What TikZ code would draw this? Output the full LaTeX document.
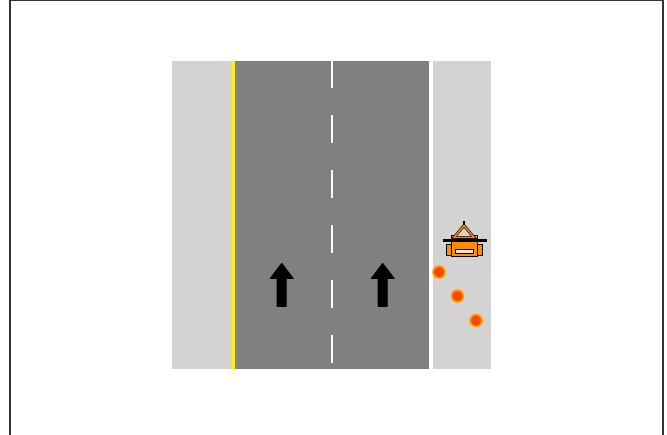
\documentclass[tikz,border=0pt]{standalone}
\tikzset{
  dashline/.style={draw=white,line width=1.4pt},
  blackarrow/.style={fill=black,draw=black,line width=1pt,line join=round},
  cone/.style={circle,fill=orangered,draw=coneorange,line width=1.7pt,minimum size=12pt,inner sep=0pt},
  signpart/.style={fill=signorange,draw=black,line width=0.7pt}
}
\definecolor{orangered}{RGB}{255,69,0}
\definecolor{coneorange}{RGB}{255,165,0}
\definecolor{signorange}{RGB}{255,140,0}
\definecolor{road}{RGB}{128,128,128}
\definecolor{shoulder}{RGB}{211,211,211}
\begin{document}
\begin{tikzpicture}[x=1pt,y=-1pt]
\useasboundingbox (0,0) rectangle (667,435);
\fill[white] (0,0) rectangle (667,435);
\draw[black!80,line width=1.2pt] (10,435) -- (10,0.7) -- (663,0.7) -- (663,435);
\fill[shoulder] (172,61) rectangle (491,369);
\fill[road] (235,61) rectangle (429,369);
\fill[yellow] (232,61) rectangle (235,369);
\fill[white] (429,61) rectangle (433,369);
\foreach \y in {60,115,170,225,280,335}{
  \draw[dashline] (332,{max(\y,61)}) -- (332,\y+28);
}
\foreach \x in {281.7,382.7}{
  \fill[blackarrow] (\x,263.5) -- (\x+11.5,278.5) -- (\x+4.5,278.5) -- (\x+4.5,306.5) -- (\x-4.5,306.5) -- (\x-4.5,278.5) -- (\x-11.5,278.5) -- cycle;
}
\node[cone] (c1) at (439,272) {};
\node[cone] (c2) at (457.5,296) {};
\node[cone] (c3) at (476,320.5) {};
% work sign
\draw[signpart] (446.5,244) rectangle (452,255.5);
\draw[signpart] (477,244) rectangle (482.5,255.5);
\draw[signpart] (451.7,235.8) rectangle (477.3,256.8);
\draw[fill=shoulder!60!white,draw=black,line width=0.9pt] (455.7,249) rectangle (473.3,253.5);
\draw[black,line width=2.8pt,line join=miter,fill=shoulder] (464,225.5) -- (474,237.5) -- (454,237.5) -- cycle;
\draw[signorange,line width=1.5pt,line join=miter] (464,225.5) -- (474,237.5) -- (454,237.5) -- cycle;
\draw[black,line width=1.2pt] (464,221) -- (464,225);
\draw[black,line width=2.6pt] (442.5,240.3) -- (486.5,240.3);
\end{tikzpicture}
\end{document}
